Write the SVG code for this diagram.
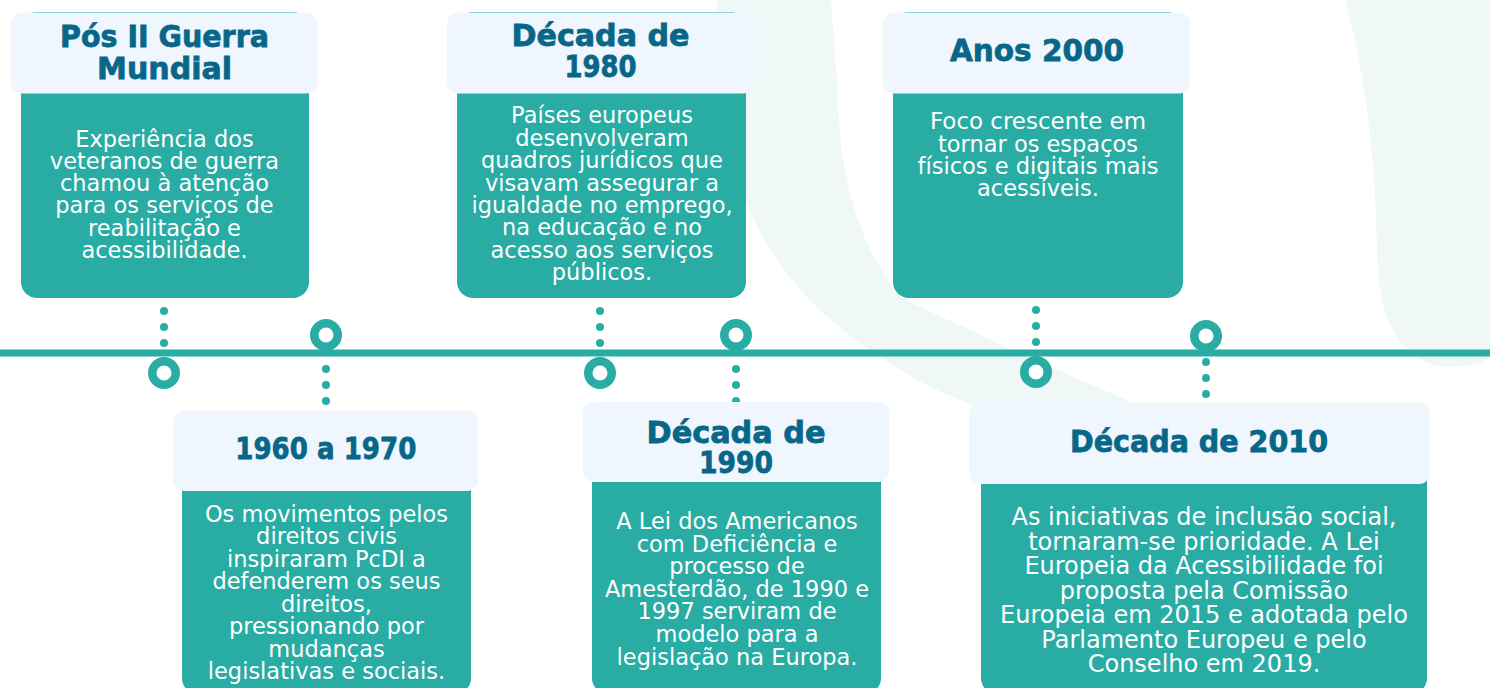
<svg xmlns="http://www.w3.org/2000/svg" width="1490" height="688" viewBox="0 0 1490 688">
<style>
.bg{fill:#eff8f7}
.hdr{fill:#eff6fd}
.bd{fill:#28aca4}
.ttl{font-family:"DejaVu Sans",sans-serif;font-weight:700;font-size:31px;fill:#086789;stroke:#086789;stroke-width:0.8;text-anchor:middle}
.txt{font-family:"DejaVu Sans",sans-serif;font-size:22.5px;fill:#ffffff;text-anchor:middle}
.ring{fill:#ffffff;stroke:#28aca4;stroke-width:8.5}
.dot{fill:#28aca4}
</style>
<rect width="1490" height="688" fill="#ffffff"/>
<g id="background">
<path class="bg" d="M 717 0 C 705 110 740 230 810 300 C 850 340 900 375 960 400 C 1030 430 1100 455 1165 466 C 1160 440 1150 415 1127 400 C 1070 375 1010 350 960 325 C 930 312 915 305 902 298 C 860 250 840 180 838 100 C 836 60 833 30 831 0 Z"/>
<path class="bg" d="M 1345 0 C 1362 60 1376 150 1377 250 C 1378 320 1400 360 1440 366 C 1460 368 1475 365 1490 358 L 1490 0 Z"/>
</g>
<g id="connectors">
<rect x="0" y="349.5" width="1490" height="7" fill="#28aca4"/>
<circle class="dot" cx="164" cy="311" r="4"/><circle class="dot" cx="164" cy="327" r="4"/><circle class="dot" cx="164" cy="343" r="4"/>
<circle class="ring" cx="164" cy="373" r="11.75"/>
<circle class="ring" cx="326" cy="335" r="11.75"/>
<circle class="dot" cx="326" cy="369" r="4"/><circle class="dot" cx="326" cy="385" r="4"/><circle class="dot" cx="326" cy="401" r="4"/>
<circle class="dot" cx="600" cy="311" r="4"/><circle class="dot" cx="600" cy="327" r="4"/><circle class="dot" cx="600" cy="343" r="4"/>
<circle class="ring" cx="600" cy="373" r="11.75"/>
<circle class="ring" cx="736" cy="335" r="11.75"/>
<circle class="dot" cx="736" cy="369" r="4"/><circle class="dot" cx="736" cy="385" r="4"/><circle class="dot" cx="736" cy="401" r="4"/>
<circle class="dot" cx="1036" cy="310" r="4"/><circle class="dot" cx="1036" cy="326" r="4"/><circle class="dot" cx="1036" cy="342" r="4"/>
<circle class="ring" cx="1036" cy="372" r="11.75"/>
<circle class="ring" cx="1206" cy="336" r="11.75"/>
<circle class="dot" cx="1206" cy="362" r="4"/><circle class="dot" cx="1206" cy="378" r="4"/><circle class="dot" cx="1206" cy="394" r="4"/>
</g>
<g id="card-pos-guerra">
<rect class="bd" x="21" y="12" width="288" height="286" rx="16"/>
<rect class="hdr" x="11" y="12.5" width="306" height="81" rx="11"/>
<text class="ttl"><tspan x="164.5" y="46.7" textLength="209" lengthAdjust="spacingAndGlyphs">Pós II Guerra</tspan><tspan x="164.5" y="79" textLength="135" lengthAdjust="spacingAndGlyphs">Mundial</tspan></text>
<text class="txt"><tspan x="164.5" y="146.5">Experiência dos</tspan><tspan x="164.5" y="168.8">veteranos de guerra</tspan><tspan x="164.5" y="191.1">chamou à atenção</tspan><tspan x="164.5" y="213.4">para os serviços de</tspan><tspan x="164.5" y="235.7">reabilitação e</tspan><tspan x="164.5" y="258">acessibilidade.</tspan></text>
</g>
<g id="card-1960-1970">
<rect class="bd" x="182" y="411" width="289" height="283" rx="16"/>
<rect class="hdr" x="173" y="411" width="305" height="80" rx="11"/>
<text class="ttl" style="font-size:31px"><tspan x="325.8" y="459.3" textLength="181" lengthAdjust="spacingAndGlyphs">1960 a 1970</tspan></text>
<text class="txt"><tspan x="326.5" y="521.7">Os movimentos pelos</tspan><tspan x="326.5" y="544.2">direitos civis</tspan><tspan x="326.5" y="566.7">inspiraram PcDI a</tspan><tspan x="326.5" y="589.2">defenderem os seus</tspan><tspan x="326.5" y="611.7">direitos,</tspan><tspan x="326.5" y="634.2">pressionando por</tspan><tspan x="326.5" y="656.7">mudanças</tspan><tspan x="326.5" y="679.2">legislativas e sociais.</tspan></text>
</g>
<g id="card-1980">
<rect class="bd" x="457" y="12" width="289" height="286" rx="16"/>
<rect class="hdr" x="447" y="12.5" width="307" height="81" rx="11"/>
<text class="ttl"><tspan x="600.5" y="45.7" textLength="178" lengthAdjust="spacingAndGlyphs">Década de</tspan><tspan x="600.5" y="77.3" textLength="72" lengthAdjust="spacingAndGlyphs">1980</tspan></text>
<text class="txt"><tspan x="602" y="123.3">Países europeus</tspan><tspan x="602" y="145.7">desenvolveram</tspan><tspan x="602" y="168.1">quadros jurídicos que</tspan><tspan x="602" y="190.5">visavam assegurar a</tspan><tspan x="602" y="212.9">igualdade no emprego,</tspan><tspan x="602" y="235.3">na educação e no</tspan><tspan x="602" y="257.7">acesso aos serviços</tspan><tspan x="602" y="280.1">públicos.</tspan></text>
</g>
<g id="card-1990">
<rect class="bd" x="592" y="402" width="289" height="292" rx="16"/>
<rect class="hdr" x="583" y="402" width="306" height="80" rx="11"/>
<text class="ttl"><tspan x="736" y="443.3" textLength="179" lengthAdjust="spacingAndGlyphs">Década de</tspan><tspan x="736" y="473.3" textLength="74" lengthAdjust="spacingAndGlyphs">1990</tspan></text>
<text class="txt"><tspan x="737" y="529">A Lei dos Americanos</tspan><tspan x="737" y="551.6">com Deficiência e</tspan><tspan x="737" y="574.2">processo de</tspan><tspan x="737" y="596.8">Amesterdão, de 1990 e</tspan><tspan x="737" y="619.4">1997 serviram de</tspan><tspan x="737" y="642">modelo para a</tspan><tspan x="737" y="664.6">legislação na Europa.</tspan></text>
</g>
<g id="card-2000">
<rect class="bd" x="893" y="12" width="290" height="286" rx="16"/>
<rect class="hdr" x="883" y="12.5" width="307" height="81" rx="11"/>
<text class="ttl"><tspan x="1037" y="60.7" textLength="174" lengthAdjust="spacingAndGlyphs">Anos 2000</tspan></text>
<text class="txt"><tspan x="1038" y="129.3" textLength="216" lengthAdjust="spacingAndGlyphs">Foco crescente em</tspan><tspan x="1038" y="151.5">tornar os espaços</tspan><tspan x="1038" y="173.7" textLength="241" lengthAdjust="spacingAndGlyphs">físicos e digitais mais</tspan><tspan x="1038" y="195.9">acessíveis.</tspan></text>
</g>
<g id="card-2010">
<rect class="bd" x="981" y="403" width="446" height="291" rx="16"/>
<rect class="hdr" x="969" y="403" width="461" height="81" rx="11"/>
<text class="ttl"><tspan x="1199" y="451.7" textLength="258" lengthAdjust="spacingAndGlyphs">Década de 2010</tspan></text>
<text class="txt" style="font-size:24px"><tspan x="1204" y="525">As iniciativas de inclusão social,</tspan><tspan x="1204" y="549.5">tornaram-se prioridade. A Lei</tspan><tspan x="1204" y="574">Europeia da Acessibilidade foi</tspan><tspan x="1204" y="598.6">proposta pela Comissão</tspan><tspan x="1204" y="623.2">Europeia em 2015 e adotada pelo</tspan><tspan x="1204" y="647.7">Parlamento Europeu e pelo</tspan><tspan x="1204" y="672.3">Conselho em 2019.</tspan></text>
</g>
</svg>
